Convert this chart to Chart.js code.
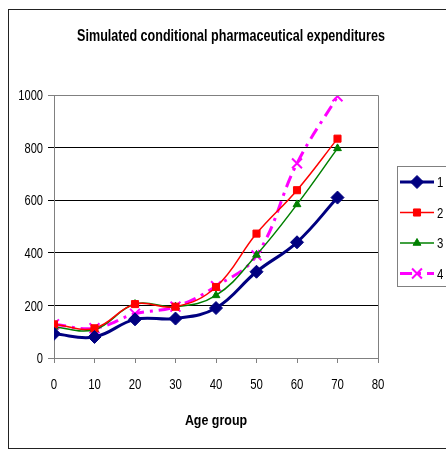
<!DOCTYPE html>
<html>
<head>
<meta charset="utf-8">
<script src="https://cdn.jsdelivr.net/npm/chart.js@4/dist/chart.umd.min.js"></script>
<style>
  html, body { margin: 0; padding: 0; background: #fff; overflow: hidden; }
  #wrap { width: 446px; height: 451px; position: relative; }
</style>
</head>
<body>
<div id="wrap"><canvas id="pharmaChart" width="446" height="451"></canvas></div>
<script>
// Data
const ageGroups = [0, 10, 20, 30, 40, 50, 60, 70];
const seriesNames = ['1', '2', '3', '4'];
const series1 = [92, 80, 147, 150, 190, 328, 440, 610];
const series2 = [128, 113, 205, 195, 270, 473, 638, 834];
const series3 = [118, 108, 205, 195, 238, 392, 584, 797];
const series4 = [128, 113, 168, 195, 273, 390, 740, 995];
const xTicks = [0, 10, 20, 30, 40, 50, 60, 70, 80];
const yTicks = [0, 200, 400, 600, 800, 1000];
const chartTitle = 'Simulated conditional pharmaceutical expenditures';
const xTitle = 'Age group';

const FONT = "'Liberation Sans', Arial, sans-serif";

const toPoints = (values) => values.map((v, i) => ({ x: ageGroups[i], y: v }));

// Text in the old Excel picture is tall and narrow -> squeeze it horizontally
const drawNarrow = (ctx, text, x, y, font, align, sx) => {
    ctx.save();
    ctx.font = font;
    ctx.fillStyle = '#000';
    ctx.textBaseline = 'middle';
    ctx.textAlign = align;
    ctx.translate(x, y);
    ctx.scale(sx, 1);
    ctx.fillText(text, 0, 0);
    ctx.restore();
}

// Outer chart border + plot area border
const framePlugin = {
    id: 'frame',
    beforeDraw: (chart) => {
        const ctx = chart.ctx;
        ctx.save();
        ctx.fillStyle = '#fff';
        ctx.fillRect(0, 0, chart.width, chart.height);
        ctx.strokeStyle = '#222';
        ctx.lineWidth = 1;
        ctx.strokeRect(8.5, 9.5, 480, 439);
        ctx.restore();
    },
    afterDatasetsDraw: (chart) => {
        const a = chart.chartArea;
        const ctx = chart.ctx;
        ctx.save();
        ctx.strokeStyle = '#808080';
        ctx.lineWidth = 1;
        ctx.beginPath();
        ctx.moveTo(a.left, a.top + 0.5);
        ctx.lineTo(a.right + 0.5, a.top + 0.5);
        ctx.lineTo(a.right + 0.5, a.bottom);
        ctx.stroke();
        ctx.restore();
    }
};

// Title, tick labels and axis title, placed with the chart's own scales
const textPlugin = {
    id: 'narrowText',
    afterDraw: (chart) => {
        const ctx = chart.ctx;
        const a = chart.chartArea;
        const xs = chart.scales.x;
        const ys = chart.scales.y;

        drawNarrow(ctx, chartTitle, 231, 37, 'bold 16px ' + FONT, 'center', 0.785);

        yTicks.forEach(v => {
            drawNarrow(ctx, String(v), a.left - 11, ys.getPixelForValue(v) + 1, '15px ' + FONT, 'right', 0.74);
        });
        xTicks.forEach(v => {
            drawNarrow(ctx, String(v), xs.getPixelForValue(v), 385, '15px ' + FONT, 'center', 0.76);
        });

        drawNarrow(ctx, xTitle, (a.left + a.right) / 2, 421, 'bold 15px ' + FONT, 'center', 0.83);
    }
};

// Legend box on the right, cut off by the window like the original
const legendPlugin = {
    id: 'sideLegend',
    afterDraw: (chart) => {
        const ctx = chart.ctx;
        ctx.save();
        ctx.fillStyle = '#fff';
        ctx.fillRect(397, 166, 80, 121);
        ctx.strokeStyle = '#808080';
        ctx.lineWidth = 1;
        ctx.strokeRect(397.5, 166.5, 80, 120);

        chart.data.datasets.forEach((ds, i) => {
            const y = 182 + i * 30.5;
            ctx.save();
            ctx.strokeStyle = ds.borderColor;
            ctx.lineWidth = ds.borderWidth;
            ctx.setLineDash(ds.borderDash || []);
            ctx.beginPath();
            ctx.moveTo(400, y);
            ctx.lineTo(434, y);
            ctx.stroke();
            ctx.restore();

            ctx.save();
            ctx.fillStyle = ds.pointBackgroundColor;
            ctx.strokeStyle = ds.pointBorderColor;
            ctx.lineWidth = ds.pointBorderWidth;
            Chart.helpers.drawPoint(ctx, {
                pointStyle: ds.pointStyle,
                radius: ds.pointRadius,
                rotation: 0,
                borderWidth: ds.pointBorderWidth
            }, 417, y);
            ctx.restore();

            drawNarrow(ctx, ds.label, 437, y + 1, '15px ' + FONT, 'left', 0.76);
        });
        ctx.restore();
    }
};

const ctx = document.getElementById('pharmaChart').getContext('2d');

const pharmaChart = new Chart(ctx, {
    type: 'line',
    data: {
        datasets: [
            {
                label: seriesNames[0],
                data: toPoints(series1),
                borderColor: '#000080',
                backgroundColor: '#000080',
                borderWidth: 3,
                pointStyle: 'rectRot',
                pointRadius: 6.5,
                pointBackgroundColor: '#000080',
                pointBorderColor: '#000080',
                pointBorderWidth: 1,
                tension: 0.4
            },
            {
                label: seriesNames[1],
                data: toPoints(series2),
                borderColor: '#ff0000',
                backgroundColor: '#ff0000',
                borderWidth: 1.5,
                pointStyle: 'rect',
                pointRadius: 5,
                pointBackgroundColor: '#ff0000',
                pointBorderColor: '#ff0000',
                pointBorderWidth: 1,
                tension: 0.4
            },
            {
                label: seriesNames[2],
                data: toPoints(series3),
                borderColor: '#008000',
                backgroundColor: '#008000',
                borderWidth: 1.5,
                pointStyle: 'triangle',
                pointRadius: 4.5,
                pointBackgroundColor: '#008000',
                pointBorderColor: '#008000',
                pointBorderWidth: 1,
                tension: 0.4
            },
            {
                label: seriesNames[3],
                data: toPoints(series4),
                borderColor: '#ff00ff',
                backgroundColor: '#ff00ff',
                borderWidth: 3,
                borderDash: [12, 6, 3, 6],
                pointStyle: 'crossRot',
                pointRadius: 7,
                pointBackgroundColor: '#ff00ff',
                pointBorderColor: '#ff00ff',
                pointBorderWidth: 2,
                tension: 0.4
            }
        ]
    },
    options: {
        responsive: false,
        animation: false,
        layout: {
            padding: { left: 8, right: 68, top: 95, bottom: 2 }
        },
        plugins: {
            legend: { display: false },
            tooltip: { enabled: false },
            title: { display: false }
        },
        scales: {
            x: {
                type: 'linear',
                min: 0,
                max: 80,
                afterBuildTicks: (axis) => { axis.ticks = xTicks.map(v => ({ value: v })); },
                afterFit: (axis) => { axis.height = 91; },
                ticks: { display: false },
                grid: {
                    drawOnChartArea: false,
                    drawTicks: true,
                    tickLength: 5,
                    color: '#808080'
                },
                border: { color: '#808080', width: 1 }
            },
            y: {
                type: 'linear',
                min: 0,
                max: 1000,
                afterBuildTicks: (axis) => { axis.ticks = yTicks.map(v => ({ value: v })); },
                afterFit: (axis) => { axis.width = 46; },
                ticks: { display: false },
                grid: {
                    color: (c) => (c.tick && (c.tick.value === 0 || c.tick.value === 1000)) ? '#808080' : '#000',
                    lineWidth: 1,
                    tickLength: 6,
                    drawTicks: true
                },
                border: { color: '#808080', width: 1 }
            }
        }
    },
    plugins: [framePlugin, textPlugin, legendPlugin]
});
</script>
</body>
</html>
